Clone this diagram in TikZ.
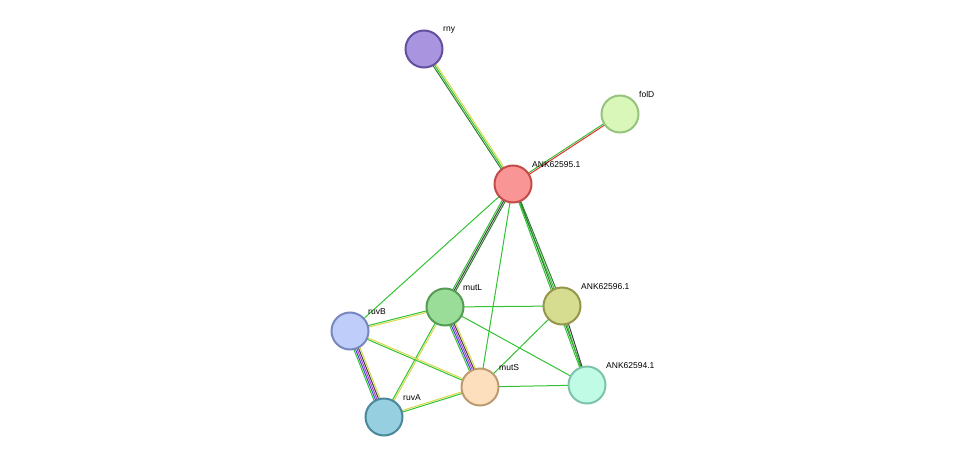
\documentclass[tikz,border=0pt]{standalone}
\usepackage{fontspec}
\setmainfont{Liberation Sans}
\usetikzlibrary{calc}
\begin{document}
\begin{tikzpicture}[x=1pt,y=-1pt,
  prot/.style={circle,minimum size=37pt,inner sep=0pt,line width=2pt},
  lab/.style={anchor=south west,font=\fontsize{8.5}{10}\selectfont,inner sep=0pt}]
\useasboundingbox (0,0) rectangle (975,463);
\definecolor{eg}{HTML}{33C233}\definecolor{dg}{HTML}{2E7D2E}\definecolor{ey}{HTML}{D8D84A}
\definecolor{eb}{HTML}{4444DD}\definecolor{ep}{HTML}{B040C8}\definecolor{er}{HTML}{E03030}
\definecolor{ek}{HTML}{404040}
\newcommand\sedge[4]{%
  \foreach \c [count=\i] in {#4}{%
    \pgfmathsetmacro\o{(\i-(#3+1)/2)*1.6}%
    \draw[\c,line width=1pt] ($(#1)!\o pt!90:(#2)$) -- ($(#2)!\o pt!-90:(#1)$);}}
\coordinate (rny) at (424,49);
\coordinate (folD) at (620,114);
\coordinate (k95) at (513,184);
\coordinate (mutL) at (445,307);
\coordinate (k96) at (562,306);
\coordinate (ruvB) at (350,331);
\coordinate (mutS) at (480,387);
\coordinate (k94) at (587,385);
\coordinate (ruvA) at (384,417);
\sedge{rny}{k95}{3}{dg,eg,ey}
\sedge{folD}{k95}{2}{eg,er}
\sedge{k95}{mutL}{3}{eg,ek,dg}
\sedge{k95}{k96}{2}{eg,dg}
\sedge{k95}{k94}{2}{eg,dg}
\sedge{k95}{ruvB}{1}{eg}
\sedge{k95}{mutS}{1}{eg}
\sedge{k96}{k94}{2}{eg,ek}
\sedge{mutL}{k96}{1}{eg}
\sedge{mutL}{k94}{1}{eg}
\sedge{k96}{mutS}{1}{eg}
\sedge{mutL}{ruvB}{2}{eg,ey}
\sedge{mutL}{mutS}{5}{eg,eb,ep,ek,ey}
\sedge{mutL}{ruvA}{2}{eg,ey}
\sedge{ruvB}{ruvA}{5}{eg,eb,ep,ek,ey}
\sedge{ruvB}{mutS}{2}{eg,ey}
\sedge{ruvA}{mutS}{2}{eg,ey}
\sedge{mutS}{k94}{1}{eg}
\node[prot,fill={rgb,255:red,169;green,148;blue,224},draw={rgb,255:red,100;green,80;blue,160}] (nrny) at (rny) {};
\node[prot,fill={rgb,255:red,216;green,247;blue,184},draw={rgb,255:red,150;green,195;blue,125}] (nfolD) at (folD) {};
\node[prot,fill={rgb,255:red,249;green,149;blue,149},draw={rgb,255:red,195;green,75;blue,75}] (nk95) at (k95) {};
\node[prot,fill={rgb,255:red,153;green,221;blue,153},draw={rgb,255:red,85;green,155;blue,85}] (nmutL) at (mutL) {};
\node[prot,fill={rgb,255:red,214;green,220;blue,144},draw={rgb,255:red,150;green,150;blue,75}] (nk96) at (k96) {};
\node[prot,fill={rgb,255:red,191;green,205;blue,251},draw={rgb,255:red,120;green,135;blue,190}] (nruvB) at (ruvB) {};
\node[prot,fill={rgb,255:red,253;green,223;blue,190},draw={rgb,255:red,190;green,155;blue,110}] (nmutS) at (mutS) {};
\node[prot,fill={rgb,255:red,192;green,251;blue,230},draw={rgb,255:red,125;green,195;blue,170}] (nk94) at (k94) {};
\node[prot,fill={rgb,255:red,150;green,208;blue,224},draw={rgb,255:red,75;green,135;blue,155}] (nruvA) at (ruvA) {};
\node[lab] at ($(rny)+(19,-16)$) {rny};
\node[lab] at ($(folD)+(19,-16)$) {folD};
\node[lab] at ($(k95)+(19,-16)$) {ANK62595.1};
\node[lab] at ($(mutL)+(18,-16)$) {mutL};
\node[lab] at ($(k96)+(19,-16)$) {ANK62596.1};
\node[lab] at ($(ruvB)+(18,-16)$) {ruvB};
\node[lab] at ($(mutS)+(19,-16)$) {mutS};
\node[lab] at ($(k94)+(19,-16)$) {ANK62594.1};
\node[lab] at ($(ruvA)+(19,-16)$) {ruvA};
\end{tikzpicture}
\end{document}
